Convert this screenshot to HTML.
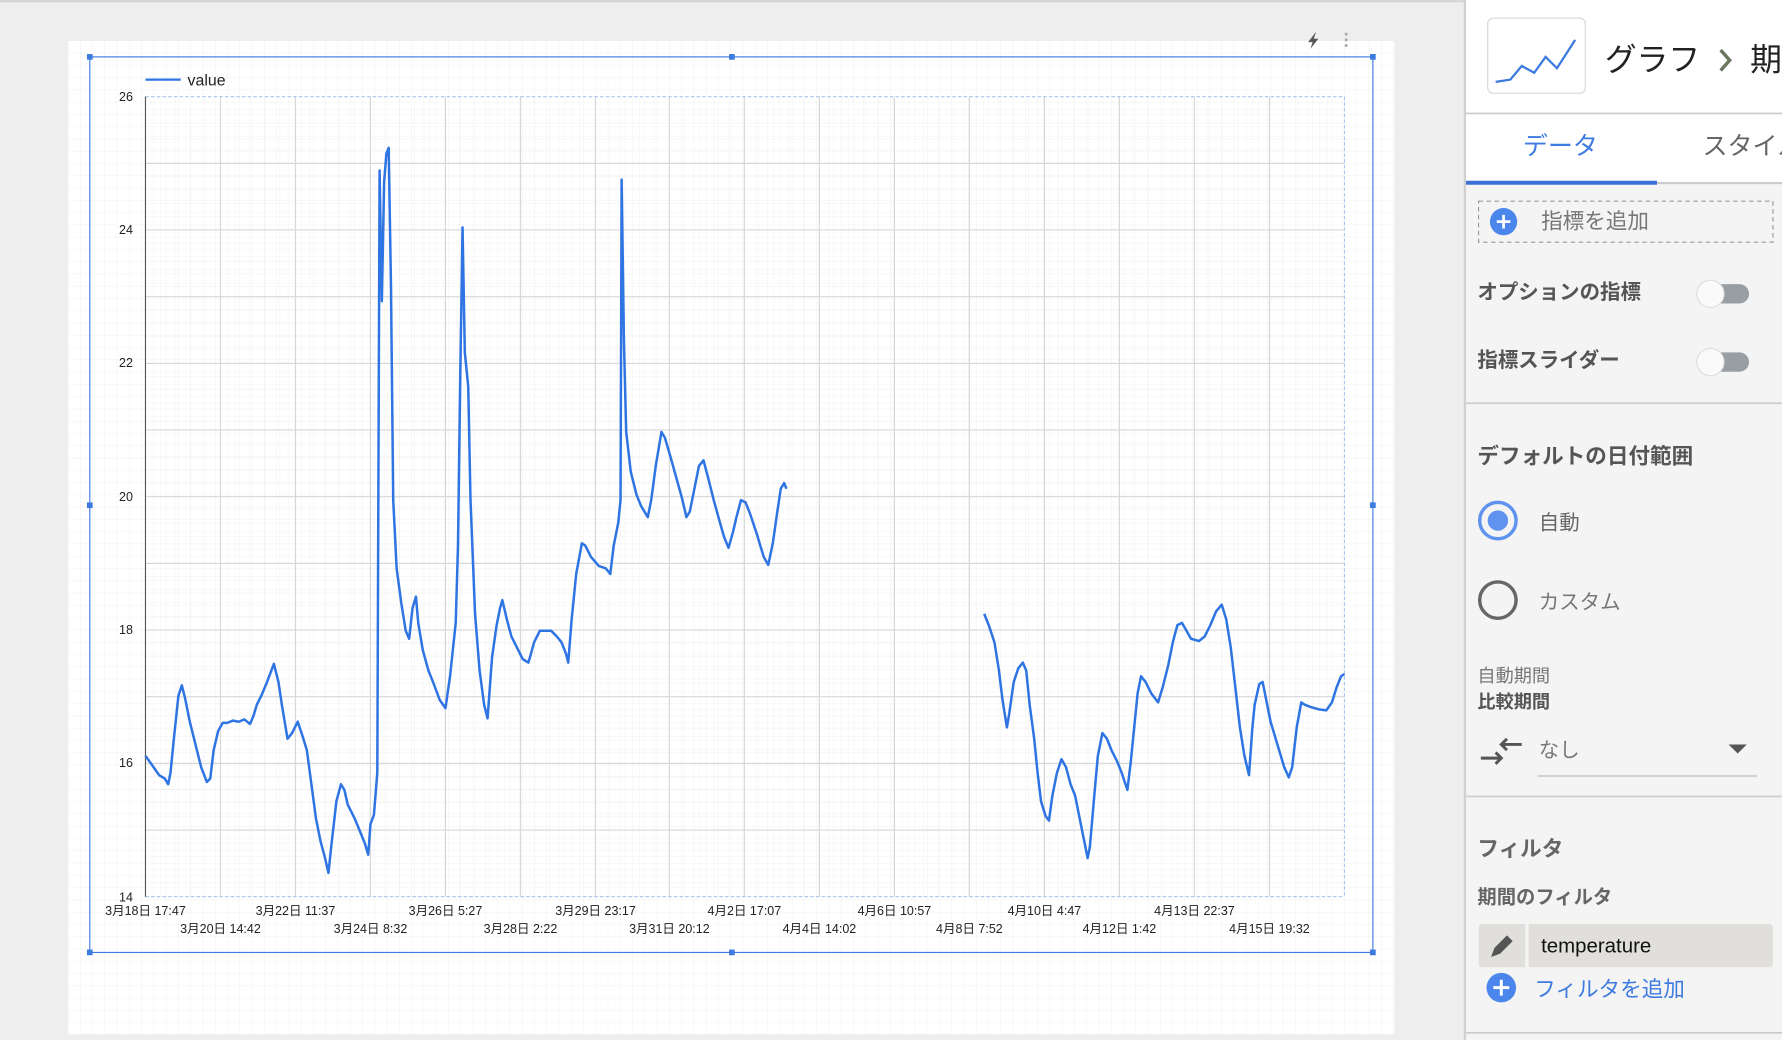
<!DOCTYPE html>
<html><head><meta charset="utf-8"><style>
html,body{margin:0;padding:0;background:#eeeeee;width:1782px;height:1040px;overflow:hidden}
svg{display:block}
text{font-family:"Liberation Sans","Noto Sans CJK JP",sans-serif}
</style></head><body>
<svg width="1782" height="1040" viewBox="0 0 1568 915" xmlns="http://www.w3.org/2000/svg">
<defs>
<pattern id="fg" width="10.8" height="10.8" patternUnits="userSpaceOnUse" x="60" y="36">
<path d="M10.8 0V10.8H0" fill="none" stroke="#f0f0f0" stroke-width="0.8"/>
</pattern>
<pattern id="pg" width="13.17" height="11.73" patternUnits="userSpaceOnUse" x="128" y="85">
<path d="M13.17 0V11.73H0" fill="none" stroke="#ececec" stroke-width="0.6"/>
</pattern>
</defs>
<rect width="1568" height="915" fill="#eeeeee"/>
<rect x="0" y="0" width="1568" height="2" fill="#d6d6d6"/>
<!-- card -->
<rect x="60" y="36" width="1167" height="874" fill="#fff"/>
<rect x="60" y="36" width="1167" height="874" fill="url(#fg)"/>
<!-- icons top right -->
<path d="M1158 28 L1151 37 L1155 37 L1153 43 L1160 34 L1156 34 Z" fill="#555"/>
<circle cx="1184.5" cy="30" r="1.3" fill="#aaa"/><circle cx="1184.5" cy="35" r="1.3" fill="#aaa"/><circle cx="1184.5" cy="40" r="1.3" fill="#aaa"/>
<!-- plot grid -->
<rect x="128" y="85" width="1055" height="704" fill="url(#pg)"/>
<g stroke="#d8d8d8" stroke-width="1">
<line x1="128" y1="143.7" x2="1183" y2="143.7"/><line x1="128" y1="202.3" x2="1183" y2="202.3"/>
<line x1="128" y1="261" x2="1183" y2="261"/><line x1="128" y1="319.7" x2="1183" y2="319.7"/>
<line x1="128" y1="378.3" x2="1183" y2="378.3"/><line x1="128" y1="437" x2="1183" y2="437"/>
<line x1="128" y1="495.7" x2="1183" y2="495.7"/><line x1="128" y1="554.3" x2="1183" y2="554.3"/>
<line x1="128" y1="613" x2="1183" y2="613"/><line x1="128" y1="671.7" x2="1183" y2="671.7"/>
<line x1="128" y1="730.3" x2="1183" y2="730.3"/>
<line x1="194" y1="85" x2="194" y2="789"/><line x1="260" y1="85" x2="260" y2="789"/>
<line x1="326" y1="85" x2="326" y2="789"/><line x1="392" y1="85" x2="392" y2="789"/>
<line x1="458" y1="85" x2="458" y2="789"/><line x1="524" y1="85" x2="524" y2="789"/>
<line x1="589" y1="85" x2="589" y2="789"/><line x1="655" y1="85" x2="655" y2="789"/>
<line x1="721" y1="85" x2="721" y2="789"/><line x1="787" y1="85" x2="787" y2="789"/>
<line x1="853" y1="85" x2="853" y2="789"/><line x1="919" y1="85" x2="919" y2="789"/>
<line x1="985" y1="85" x2="985" y2="789"/><line x1="1051" y1="85" x2="1051" y2="789"/>
<line x1="1117" y1="85" x2="1117" y2="789"/>
</g>
<g stroke="#a9c4ee" stroke-width="1" stroke-dasharray="3,2" fill="none">
<line x1="128" y1="85" x2="1183" y2="85"/><line x1="128" y1="789" x2="1183" y2="789"/><line x1="1183" y1="85" x2="1183" y2="789"/>
</g>
<line x1="128" y1="85" x2="128" y2="789" stroke="#555" stroke-width="1"/>
<!-- y labels -->
<g font-size="11" fill="#222" text-anchor="end">
<text x="117" y="89">26</text><text x="117" y="206">24</text><text x="117" y="323">22</text>
<text x="117" y="441">20</text><text x="117" y="558">18</text><text x="117" y="675">16</text><text x="117" y="793">14</text>
</g>
<!-- x labels -->
<g font-size="11" fill="#222" text-anchor="middle">
<text x="128" y="805">3月18日 17:47</text><text x="260" y="805">3月22日 11:37</text><text x="392" y="805">3月26日 5:27</text>
<text x="524" y="805">3月29日 23:17</text><text x="655" y="805">4月2日 17:07</text><text x="787" y="805">4月6日 10:57</text>
<text x="919" y="805">4月10日 4:47</text><text x="1051" y="805">4月13日 22:37</text>
<text x="194" y="821">3月20日 14:42</text><text x="326" y="821">3月24日 8:32</text><text x="458" y="821">3月28日 2:22</text>
<text x="589" y="821">3月31日 20:12</text><text x="721" y="821">4月4日 14:02</text><text x="853" y="821">4月8日 7:52</text>
<text x="985" y="821">4月12日 1:42</text><text x="1117" y="821">4月15日 19:32</text>
</g>
<!-- legend -->
<line x1="128" y1="70" x2="159" y2="70" stroke="#2f74e3" stroke-width="2"/>
<text x="165" y="75" font-size="14" fill="#222">value</text>
<!-- series -->
<g fill="none" stroke="#2f74e3" stroke-width="2.2" stroke-linejoin="round">
<polyline points="128,665 133,672 140,682 145,685 148,690 150,680 153,650 157,612 160,603 163,615 167,635 172,655 177,675 182,688 185,685 188,660 192,643 196,636 200,636 205,634 210,635 215,633 220,637 223,630 226,620 230,612 235,600 241,584 245,600 248,620 253,650 257,645 262,635 266,647 270,660 274,690 278,720 282,740 286,755 289,768 292,740 296,705 300,690 303,695 306,708 312,720 317,732 321,742 324,752 326,725 329,717 332,680 334,150 336,265 338,160 340,135 342,130 344,250 346,440 349,500 353,530 357,555 360,562 363,535 366,525 368,548 372,572 377,590 381,600 387,616 392,623 396,595 401,548 403,480 405,330 407,200 409,310 412,340 414,440 418,540 422,590 426,620 429,632 433,578 437,550 440,535 442,528 446,545 450,560 455,570 460,580 465,583 470,565 475,555 480,555 485,555 490,560 494,565 498,575 500,583 503,545 507,505 512,478 515,480 520,490 527,498 533,500 537,505 540,480 544,460 546,440 547,158 549,300 551,380 555,415 560,435 564,445 570,455 573,440 577,410 582,380 585,385 590,402 595,420 600,438 604,455 607,450 612,425 615,410 619,405 623,420 628,440 633,458 637,472 641,482 645,468 648,455 652,440 656,442 660,452 666,470 672,490 676,497 680,478 684,450 687,430 690,425 692,430"/>
<polyline points="866,540 870,550 875,565 879,590 882,615 886,640 888,628 892,600 896,588 900,583 903,590 906,620 910,650 913,680 916,705 920,718 923,722 926,700 930,680 934,668 938,675 942,690 946,700 950,720 953,735 957,755 959,745 962,710 966,665 970,645 974,650 978,660 983,670 987,680 992,695 995,670 998,640 1001,610 1004,595 1008,600 1013,610 1019,618 1023,605 1028,585 1032,565 1036,550 1040,548 1044,555 1048,562 1055,564 1060,560 1065,550 1070,538 1075,532 1079,545 1083,570 1087,605 1091,640 1095,665 1099,682 1102,640 1104,620 1108,602 1111,600 1114,615 1118,635 1124,655 1130,675 1134,684 1137,675 1141,640 1145,618 1148,620 1153,622 1160,624 1167,625 1172,618 1176,605 1180,595 1183,593"/>
</g>
<!-- selection box -->
<rect x="79" y="50" width="1129" height="788" fill="none" stroke="#3d7be0" stroke-width="1"/>
<g fill="#3d7be0">
<rect x="76.5" y="47.5" width="5" height="5"/><rect x="641.5" y="47.5" width="5" height="5"/><rect x="1205.5" y="47.5" width="5" height="5"/>
<rect x="76.5" y="442" width="5" height="5"/><rect x="1205.5" y="442" width="5" height="5"/>
<rect x="76.5" y="835.5" width="5" height="5"/><rect x="641.5" y="835.5" width="5" height="5"/><rect x="1205.5" y="835.5" width="5" height="5"/>
</g>
<!-- side panel -->
<rect x="1290" y="0" width="278" height="915" fill="#f4f4f4"/>
<rect x="1290" y="0" width="278" height="162" fill="#fff"/>
<rect x="1288" y="0" width="2" height="915" fill="#d0d0d0"/>
<rect x="1309" y="16" width="86" height="66" rx="5" fill="#fff" stroke="#ddd" stroke-width="1.2"/>
<polyline points="1316,72 1329,70 1339,58 1350,64 1360,50 1370,60 1386,35" fill="none" stroke="#3d7be0" stroke-width="2"/>
<text x="1412" y="62" font-size="28" fill="#222">グラフ</text>
<path d="M1514 44 L1522 53 L1514 62" fill="none" stroke="#6b7560" stroke-width="3"/>
<text x="1540" y="62" font-size="28" fill="#222">期</text>
<rect x="1290" y="99" width="278" height="1.5" fill="#ccc"/>
<text x="1373" y="136" font-size="22" fill="#3d7be0" text-anchor="middle">データ</text>
<text x="1498" y="136" font-size="22" fill="#666">スタイル</text>
<rect x="1290" y="160" width="278" height="2" fill="#ccc"/>
<rect x="1290" y="159" width="168" height="3.5" fill="#3d6fd6"/>
<rect x="1301" y="177" width="259" height="36" fill="none" stroke="#999" stroke-dasharray="4,3"/>
<circle cx="1323" cy="195" r="12" fill="#4a86ec"/>
<path d="M1323 189v12M1317 195h12" stroke="#fff" stroke-width="2.4"/>
<text x="1356" y="201" font-size="19" fill="#777">指標を追加</text>
<text x="1300" y="263" font-size="18" font-weight="bold" fill="#555">オプションの指標</text>
<rect x="1497" y="250" width="42" height="17" rx="8.5" fill="#999ea3"/>
<circle cx="1505" cy="258.5" r="12" fill="#fafafa" stroke="#ddd"/>
<text x="1300" y="323" font-size="18" font-weight="bold" fill="#555">指標スライダー</text>
<rect x="1497" y="310" width="42" height="17" rx="8.5" fill="#999ea3"/>
<circle cx="1505" cy="318.5" r="12" fill="#fafafa" stroke="#ddd"/>
<rect x="1290" y="354" width="278" height="1.5" fill="#ccc"/>
<text x="1300" y="408" font-size="19" font-weight="bold" fill="#555">デフォルトの日付範囲</text>
<circle cx="1318" cy="458" r="16" fill="none" stroke="#5f93ef" stroke-width="3"/>
<circle cx="1318" cy="458" r="9" fill="#5f93ef"/>
<text x="1354" y="466" font-size="18" fill="#666">自動</text>
<circle cx="1318" cy="528" r="16" fill="none" stroke="#666" stroke-width="3"/>
<text x="1354" y="536" font-size="18" fill="#777">カスタム</text>
<text x="1300" y="600" font-size="16" fill="#777">自動期間</text>
<text x="1300" y="623" font-size="16" font-weight="bold" fill="#555">比較期間</text>
<path d="M1303 667h18M1316 662l5 5-5 5M1339 655h-18M1326 650l-5 5 5 5" fill="none" stroke="#555" stroke-width="2.6"/>
<text x="1354" y="666" font-size="18" fill="#777">なし</text>
<path d="M1521 655h16l-8 8z" fill="#555"/>
<rect x="1353" y="682" width="193" height="1.5" fill="#ccc"/>
<rect x="1290" y="700" width="278" height="1.5" fill="#ccc"/>
<text x="1300" y="753" font-size="19" font-weight="bold" fill="#666">フィルタ</text>
<text x="1300" y="795" font-size="17" font-weight="bold" fill="#666">期間のフィルタ</text>
<rect x="1301" y="813" width="259" height="38" rx="3" fill="#e1dfdc"/>
<rect x="1342" y="813" width="3" height="38" fill="#f4f4f4"/>
<path d="M1312 842l3-8 11-11 5 5-11 11z" fill="#555"/>
<text x="1356" y="838" font-size="18" fill="#111">temperature</text>
<circle cx="1321" cy="869" r="13" fill="#4a86ec"/>
<path d="M1321 862v14M1314 869h14" stroke="#fff" stroke-width="2.6"/>
<text x="1350" y="877" font-size="19" fill="#3d7be0">フィルタを追加</text>
<rect x="1290" y="908" width="278" height="1.5" fill="#ccc"/>
</svg>
</body></html>
